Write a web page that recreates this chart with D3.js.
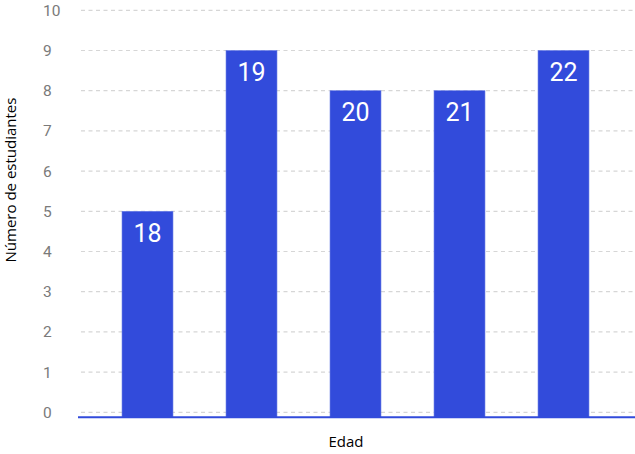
<!DOCTYPE html>
<html><head><meta charset="utf-8">
<script src="https://cdn.jsdelivr.net/npm/d3@7"></script>
<style>body{margin:0;background:#fff}svg{display:block}</style>
</head><body>
<script>
const categories = ["18","19","20","21","22"];
const values = [5,9,8,8,9];
const yTicks = [0,1,2,3,4,5,6,7,8,9,10];
const xTitle = "Edad";
const yTitle = "Número de estudiantes";

const W=635,H=454;
const svg=d3.select("body").append("svg").attr("width",W).attr("height",H);
const y=d3.scaleLinear().domain([0,10]).range([412.3,10.3]);
const x=d3.scaleBand().domain(categories).range([95.5,615.5]).paddingInner(0.51).paddingOuter(0.255);
const baseY=417.3;
const blue="#324bdb";

// grid
svg.append("g").selectAll("line").data(yTicks).join("line")
 .attr("x1",81).attr("x2",635).attr("y1",d=>y(d)).attr("y2",d=>y(d))
 .attr("stroke","#d6d6d6").attr("stroke-width",1.2).attr("stroke-dasharray","4,3.5");

// tick labels
svg.append("g").selectAll("text").data(yTicks).join("text")
 .attr("x",43).attr("y",d=>y(d)).attr("dy","0.36em")
 .attr("font-family","Roboto, sans-serif").attr("font-size",15.5).attr("fill","#7a7a7a")
 .text(d=>d);

// bars
svg.append("g").selectAll("rect").data(categories).join("rect")
 .attr("x",d=>x(d)).attr("width",x.bandwidth())
 .attr("y",(d,i)=>y(values[i])).attr("height",(d,i)=>baseY-y(values[i]))
 .attr("fill",blue).attr("stroke","#6a7fe6").attr("stroke-width",0.6);

// bar labels
svg.append("g").selectAll("text").data(categories).join("text")
 .attr("x",d=>x(d)+x.bandwidth()/2).attr("y",(d,i)=>y(values[i])+30.5)
 .attr("text-anchor","middle").attr("font-family","Roboto, sans-serif")
 .attr("font-size",25).attr("fill","#fff").text(d=>d);

// axis line
svg.append("line").attr("x1",78).attr("x2",635).attr("y1",baseY).attr("y2",baseY)
 .attr("stroke",blue).attr("stroke-width",2);

// titles
svg.append("text").attr("x",346).attr("y",447).attr("text-anchor","middle")
 .attr("font-family","'Open Sans', sans-serif").attr("font-size",15).attr("font-weight",500).attr("fill","#000").text(xTitle);
svg.append("text").attr("transform","translate(16,180) rotate(-90)").attr("text-anchor","middle")
 .attr("font-family","'Open Sans', sans-serif").attr("font-size",15).attr("font-weight",500).attr("fill","#000").text(yTitle);
</script>
</body></html>
